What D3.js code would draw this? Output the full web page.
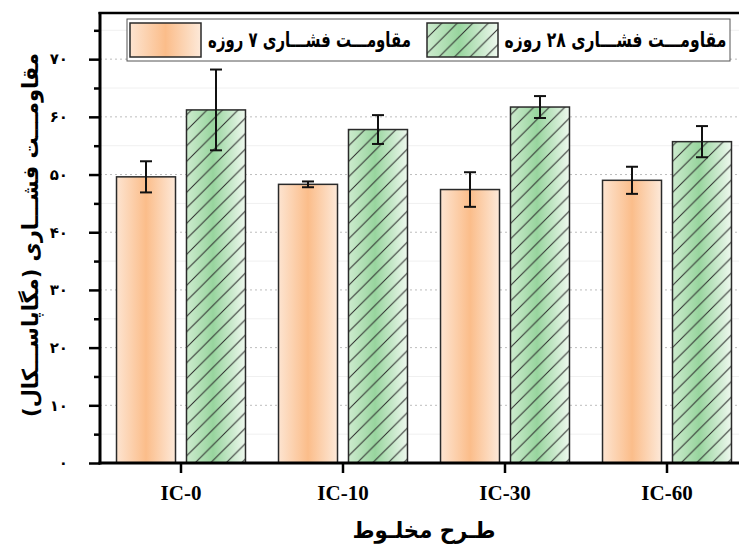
<!DOCTYPE html>
<html>
<head>
<meta charset="utf-8">
<script src="https://cdn.jsdelivr.net/npm/d3@7/dist/d3.min.js"></script>
<style>
  html, body { margin: 0; padding: 0; background: #fff; }
  svg { display: block; }
</style>
</head>
<body>
<script>
'use strict';

// chart data
const mixes = ['IC-0', 'IC-10', 'IC-30', 'IC-60'];
const seriesKeys = ['d7', 'd28'];
const seriesNames = ['مقاومـــت فشـــاری ۷ روزه', 'مقاومـــت فشـــاری ۲۸ روزه'];
const strength7 = [49.6, 48.3, 47.4, 49.0];
const error7 = [2.7, 0.5, 3.0, 2.35];
const strength28 = [61.2, 57.8, 61.7, 55.7];
const error28 = [7.0, 2.5, 1.9, 2.7];
const yMajorTicks = [0, 10, 20, 30, 40, 50, 60, 70];
const yMinorTicks = [5, 15, 25, 35, 45, 55, 65, 75];

const yTitle = 'مقاومـــت فشـــاری (مگاپاســـکال)';
const xTitle = 'طـرح مخلـوط';

const W = 739, H = 546;
const faFont = '"DejaVu Sans", sans-serif';
const toFa = (n) => String(n).replace(/\d/g, (c) => '۰۱۲۳۴۵۶۷۸۹'[c]);

const plot = { left: 100, right: 748, top: 13, bottom: 463 };

const x0 = d3.scaleBand().domain(mixes).range([plot.left, plot.right]).padding(0);
const x1 = d3.scaleBand().domain(seriesKeys).range([0, x0.bandwidth()])
  .paddingInner(0.157).paddingOuter(0.236);
const y = d3.scaleLinear().domain([0, 78]).range([plot.bottom, plot.top]);

const rows = mixes.map((m, i) => ({
  mix: m,
  bars: [
    { key: 'd7', value: strength7[i], err: error7[i] },
    { key: 'd28', value: strength28[i], err: error28[i] },
  ],
}));

const svg = d3.select('body').append('svg')
  .attr('width', W).attr('height', H);

const defs = svg.append('defs');

const gOrange = defs.append('linearGradient').attr('id', 'gradOrange')
  .attr('x1', '0%').attr('x2', '100%').attr('y1', '0%').attr('y2', '0%');
gOrange.append('stop').attr('offset', '0%').attr('stop-color', '#fde4d0');
gOrange.append('stop').attr('offset', '50%').attr('stop-color', '#fbbd8a');
gOrange.append('stop').attr('offset', '100%').attr('stop-color', '#fde9d9');

const gGreen = defs.append('linearGradient').attr('id', 'gradGreen')
  .attr('x1', '0%').attr('x2', '100%').attr('y1', '0%').attr('y2', '0%');
gGreen.append('stop').attr('offset', '0%').attr('stop-color', '#cdebce');
gGreen.append('stop').attr('offset', '45%').attr('stop-color', '#98d59e');
gGreen.append('stop').attr('offset', '100%').attr('stop-color', '#eef8ee');

const hs = 15.5;
const hatch = defs.append('pattern').attr('id', 'hatch')
  .attr('patternUnits', 'userSpaceOnUse')
  .attr('width', hs).attr('height', hs);
hatch.append('path')
  .attr('d', `M0,${hs} L${hs},0 M${-hs / 2},${hs / 2} L${hs / 2},${-hs / 2} M${hs / 2},${hs * 1.5} L${hs * 1.5},${hs / 2}`)
  .attr('stroke', '#2b2b2b').attr('stroke-width', 1);

const fills = { d7: 'url(#gradOrange)', d28: 'url(#gradGreen)' };

// squeeze a text horizontally so it spans the given width
function fitWidth(sel, cx, cy, width, rotate) {
  const node = sel.node();
  const w = node.getBBox().width;
  const k = w > 0 ? width / w : 1;
  sel.attr('transform', `translate(${cx},${cy})${rotate ? ' rotate(-90)' : ''} scale(${k},1)`);
}

// gridlines
svg.append('g').selectAll('line.minor')
  .data(yMinorTicks).join('line')
  .attr('x1', plot.left).attr('x2', W)
  .attr('y1', (d) => y(d)).attr('y2', (d) => y(d))
  .attr('stroke', '#f0f0f0').attr('stroke-width', 1);
svg.append('g').selectAll('line.major')
  .data(yMajorTicks.filter((d) => d > 0)).join('line')
  .attr('x1', plot.left).attr('x2', W)
  .attr('y1', (d) => y(d)).attr('y2', (d) => y(d))
  .attr('stroke', '#bdbdbd').attr('stroke-width', 1)
  .attr('stroke-dasharray', '2,3');

// bars
const groups = svg.append('g').selectAll('g')
  .data(rows).join('g')
  .attr('transform', (d) => `translate(${x0(d.mix)},0)`);

const bars = groups.selectAll('g.bar')
  .data((d) => d.bars).join('g').attr('class', 'bar');

bars.append('rect')
  .attr('x', (d) => x1(d.key)).attr('width', x1.bandwidth())
  .attr('y', (d) => y(d.value)).attr('height', (d) => y(0) - y(d.value))
  .attr('fill', (d) => fills[d.key]);
bars.filter((d) => d.key === 'd28').append('rect')
  .attr('x', (d) => x1(d.key)).attr('width', x1.bandwidth())
  .attr('y', (d) => y(d.value)).attr('height', (d) => y(0) - y(d.value))
  .attr('fill', 'url(#hatch)');
bars.append('rect')
  .attr('x', (d) => x1(d.key)).attr('width', x1.bandwidth())
  .attr('y', (d) => y(d.value)).attr('height', (d) => y(0) - y(d.value))
  .attr('fill', 'none').attr('stroke', '#2a2a2a').attr('stroke-width', 1.5);

// error bars
const cap = 6;
const eb = bars.append('g')
  .attr('stroke', '#111').attr('stroke-width', 2).attr('fill', 'none');
const cx = (d) => x1(d.key) + x1.bandwidth() / 2;
eb.append('line')
  .attr('x1', cx).attr('x2', cx)
  .attr('y1', (d) => y(d.value + d.err)).attr('y2', (d) => y(d.value - d.err));
eb.append('line')
  .attr('x1', (d) => cx(d) - cap).attr('x2', (d) => cx(d) + cap)
  .attr('y1', (d) => y(d.value + d.err)).attr('y2', (d) => y(d.value + d.err));
eb.append('line')
  .attr('x1', (d) => cx(d) - cap).attr('x2', (d) => cx(d) + cap)
  .attr('y1', (d) => y(d.value - d.err)).attr('y2', (d) => y(d.value - d.err));

// axes
const yAxis = svg.append('g')
  .attr('transform', `translate(${plot.left},0)`)
  .call(d3.axisLeft(y).tickValues(yMajorTicks).tickSize(11).tickPadding(21)
    .tickFormat(toFa));
yAxis.select('.domain').remove();
yAxis.selectAll('.tick line').attr('stroke', '#000').attr('stroke-width', 2.5);
yAxis.selectAll('.tick text')
  .attr('font-family', faFont).attr('font-weight', 'bold')
  .attr('font-size', 15).attr('fill', '#000');

const yMinor = svg.append('g')
  .attr('transform', `translate(${plot.left},0)`)
  .call(d3.axisLeft(y).tickValues(yMinorTicks).tickSize(6).tickFormat(''));
yMinor.select('.domain').remove();
yMinor.selectAll('.tick line').attr('stroke', '#000').attr('stroke-width', 2.5);

const xAxis = svg.append('g')
  .attr('transform', `translate(0,${plot.bottom})`)
  .call(d3.axisBottom(x0).tickSize(10).tickPadding(12));
xAxis.select('.domain').remove();
xAxis.selectAll('.tick line').attr('stroke', '#000').attr('stroke-width', 2.5);
xAxis.selectAll('.tick text')
  .attr('font-family', '"Liberation Serif", "Times New Roman", serif')
  .attr('font-weight', 'bold').attr('font-size', 21).attr('fill', '#000');

// frame lines
svg.append('line')
  .attr('x1', plot.left).attr('x2', plot.left)
  .attr('y1', plot.top - 1).attr('y2', plot.bottom + 1.5)
  .attr('stroke', '#000').attr('stroke-width', 3);
svg.append('line')
  .attr('x1', plot.left - 1.5).attr('x2', W)
  .attr('y1', plot.bottom).attr('y2', plot.bottom)
  .attr('stroke', '#000').attr('stroke-width', 3);
svg.append('line')
  .attr('x1', plot.left - 1.5).attr('x2', W)
  .attr('y1', plot.top).attr('y2', plot.top)
  .attr('stroke', '#000').attr('stroke-width', 2.5);

// legend
const lg = svg.append('g');
lg.append('rect')
  .attr('x', 127).attr('y', 19).attr('width', 603).attr('height', 42)
  .attr('fill', '#fff').attr('stroke', '#555').attr('stroke-width', 1);
const legendItems = [
  { key: 'd7', sx: 130, tx: 309.5, tw: 203, name: seriesNames[0] },
  { key: 'd28', sx: 427, tx: 615.5, tw: 222, name: seriesNames[1] },
];
legendItems.forEach((it) => {
  lg.append('rect')
    .attr('x', it.sx).attr('y', 23).attr('width', 71).attr('height', 34)
    .attr('fill', fills[it.key]);
  if (it.key === 'd28') {
    lg.append('rect')
      .attr('x', it.sx).attr('y', 23).attr('width', 71).attr('height', 34)
      .attr('fill', 'url(#hatch)');
  }
  lg.append('rect')
    .attr('x', it.sx).attr('y', 23).attr('width', 71).attr('height', 34)
    .attr('fill', 'none').attr('stroke', '#2a2a2a').attr('stroke-width', 1.5);
  const t = lg.append('text')
    .attr('dy', '0.35em')
    .attr('direction', 'rtl').attr('text-anchor', 'middle')
    .attr('font-family', faFont).attr('font-weight', 'bold')
    .attr('font-size', 21).attr('fill', '#000')
    .text(it.name);
  fitWidth(t, it.tx, 40, it.tw, false);
});

// axis titles
const yt = svg.append('text')
  .attr('dy', '0.35em')
  .attr('direction', 'rtl').attr('text-anchor', 'middle')
  .attr('font-family', faFont).attr('font-weight', 'bold')
  .attr('font-size', 22).attr('fill', '#000')
  .text(yTitle);
fitWidth(yt, 30, 235, 364, true);

const xt = svg.append('text')
  .attr('dy', '0.35em')
  .attr('direction', 'rtl').attr('text-anchor', 'middle')
  .attr('font-family', faFont).attr('font-weight', 'bold')
  .attr('font-size', 23).attr('fill', '#000')
  .text(xTitle);
fitWidth(xt, (plot.left + plot.right) / 2, 530, 143, false);
</script>
</body>
</html>
